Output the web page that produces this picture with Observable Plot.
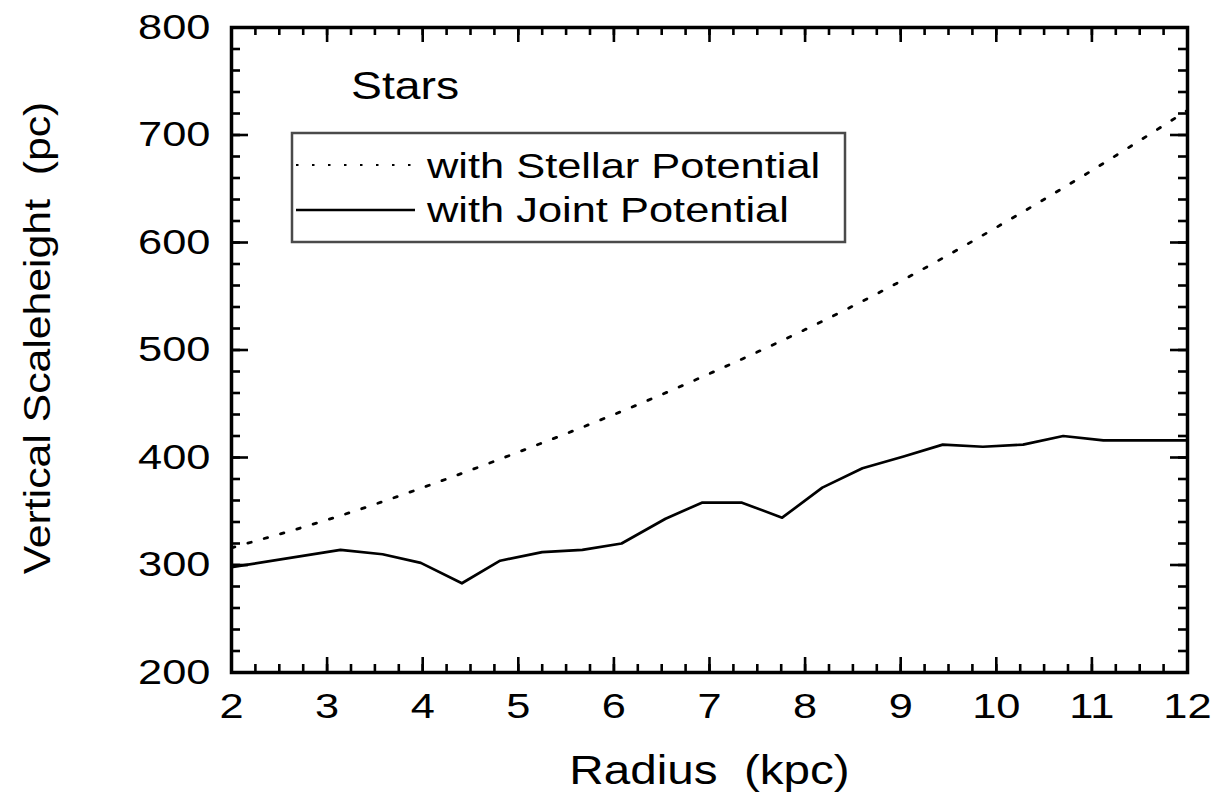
<!DOCTYPE html>
<html>
<head>
<meta charset="utf-8">
<script src="https://cdn.jsdelivr.net/npm/d3@7"></script>
<script src="https://cdn.jsdelivr.net/npm/@observablehq/plot@0.6"></script>
<style>
  html, body { margin: 0; padding: 0; background: #fff; }
  #chart svg { display: block; }
  #chart svg text { white-space: pre; }
</style>
</head>
<body>
<div id="chart"></div>
<script>
// Vertical scaleheight of the stellar disk versus galactocentric radius
const radiusJoint = [2.0, 3.14, 3.58, 3.98, 4.41, 4.81, 5.25, 5.67, 6.08, 6.54, 6.92,
                     7.34, 7.76, 8.18, 8.60, 9.03, 9.44, 9.86, 10.28, 10.70, 11.12, 12.0];
const heightJoint = [298, 314, 310, 302, 283, 304, 312, 314, 320, 343, 358,
                     358, 344, 372, 390, 401, 412, 410, 412, 420, 416, 416];

const radiusStellar = [2, 3, 4, 5, 6, 7, 8, 9, 10, 11, 12];
const heightStellar = [316, 342, 372, 405, 440, 478, 519, 564, 614, 667, 723];

const xTicks = [2, 3, 4, 5, 6, 7, 8, 9, 10, 11, 12];
const yTicks = [200, 300, 400, 500, 600, 700, 800];
const xMinorTicks = d3.range(2, 12.001, 0.25);
const yMinorTicks = d3.range(200, 800.001, 20);

const panelTitle = "Stars";
const seriesNames = ["with Stellar Potential", "with Joint Potential"];
const xTitle = "Radius  (kpc)";
const yTitle = "Vertical Scaleheight  (pc)";

const joint = radiusJoint.map((r, i) => ({r, h: heightJoint[i]}));
const stellar = radiusStellar.map((r, i) => ({r, h: heightStellar[i]}));

// layout
const W = 1214, H = 793;
const mL = 231, mR = 27, mT = 27, mB = 121;
const frameW = W - mL - mR, frameH = H - mT - mB;
const font = "'Liberation Sans', Arial, Helvetica, sans-serif";
const dotted = "3.5,13.5";
const majorLen = 15, minorLen = 8, majorLenY = 17, minorLenY = 9;

const ticksStyle = {stroke: "#000", strokeWidth: 2.6};

const chart = Plot.plot({
  width: W, height: H,
  marginLeft: mL, marginRight: mR, marginTop: mT, marginBottom: mB,
  style: {fontFamily: font, fontSize: "35px", color: "#000", background: "#fff"},
  x: {domain: [2, 12]},
  y: {domain: [200, 800]},
  marks: [
    Plot.line(stellar, {x: "r", y: "h", curve: "natural", stroke: "#000", strokeWidth: 2.8, strokeDasharray: dotted}),
    Plot.line(joint, {x: "r", y: "h", stroke: "#000", strokeWidth: 2.7}),

    // inward ticks on all four sides
    Plot.tickX(xMinorTicks, {x: d => d, insetTop: frameH - minorLen, ...ticksStyle}),
    Plot.tickX(xMinorTicks, {x: d => d, insetBottom: frameH - minorLen, ...ticksStyle}),
    Plot.tickX(xTicks, {x: d => d, insetTop: frameH - majorLen, ...ticksStyle}),
    Plot.tickX(xTicks, {x: d => d, insetBottom: frameH - majorLen, ...ticksStyle}),
    Plot.tickY(yMinorTicks, {y: d => d, insetRight: frameW - minorLenY, ...ticksStyle}),
    Plot.tickY(yMinorTicks, {y: d => d, insetLeft: frameW - minorLenY, ...ticksStyle}),
    Plot.tickY(yTicks, {y: d => d, insetRight: frameW - majorLenY, ...ticksStyle}),
    Plot.tickY(yTicks, {y: d => d, insetLeft: frameW - majorLenY, ...ticksStyle}),

    Plot.axisX(xTicks, {anchor: "bottom", tickSize: 0, tickPadding: 21, label: null}),
    Plot.axisY(yTicks, {anchor: "left", tickSize: 0, tickPadding: 21, label: null}),

    Plot.text([xTitle], {text: d => d, frameAnchor: "bottom", dy: 111, lineAnchor: "bottom",
      textAnchor: "middle", fontSize: 40}),
    Plot.text([yTitle], {text: d => d, frameAnchor: "left", dx: -193, dy: -12, rotate: -90,
      textAnchor: "middle", lineAnchor: "middle", fontSize: 37}),

    Plot.frame({stroke: "#000", strokeWidth: 3.5})
  ]
});

document.getElementById("chart").append(chart);

// legend box and panel title
const svg = d3.select(chart);
const g = svg.append("g").attr("font-family", font).attr("fill", "#000")
  .attr("text-anchor", "start");

g.append("text").attr("x", 351).attr("y", 99)
  .attr("font-size", 38).text(panelTitle);

g.append("rect").attr("x", 292).attr("y", 133).attr("width", 553).attr("height", 109)
  .attr("fill", "#fff").attr("stroke", "#4a4a4a").attr("stroke-width", 2.5);

g.append("line").attr("x1", 296).attr("x2", 420).attr("y1", 165).attr("y2", 165)
  .attr("stroke", "#000").attr("stroke-width", 2.2).attr("stroke-dasharray", "2.5,13.5");
g.append("line").attr("x1", 296).attr("x2", 415).attr("y1", 210).attr("y2", 210)
  .attr("stroke", "#000").attr("stroke-width", 2.5);

g.append("text").attr("x", 427).attr("y", 178)
  .attr("font-size", 35).text(seriesNames[0]);
g.append("text").attr("x", 427).attr("y", 222)
  .attr("font-size", 35).text(seriesNames[1]);

// the lettering is set wide
function widen(selection, k) {
  selection.each(function () {
    const len = this.getComputedTextLength();
    this.setAttribute("textLength", (len * k).toFixed(1));
    this.setAttribute("lengthAdjust", "spacingAndGlyphs");
  });
}
const textsOf = s => svg.selectAll("text").filter(function () { return this.textContent === s; });
widen(svg.selectAll('g[aria-label="x-axis tick label"] text, g[aria-label="y-axis tick label"] text'), 1.24);
widen(textsOf(seriesNames[0]), 1.24);
widen(textsOf(seriesNames[1]), 1.24);
widen(textsOf(panelTitle), 1.22);
widen(textsOf(xTitle), 1.19);
widen(textsOf(yTitle), 1.155);
</script>
</body>
</html>
